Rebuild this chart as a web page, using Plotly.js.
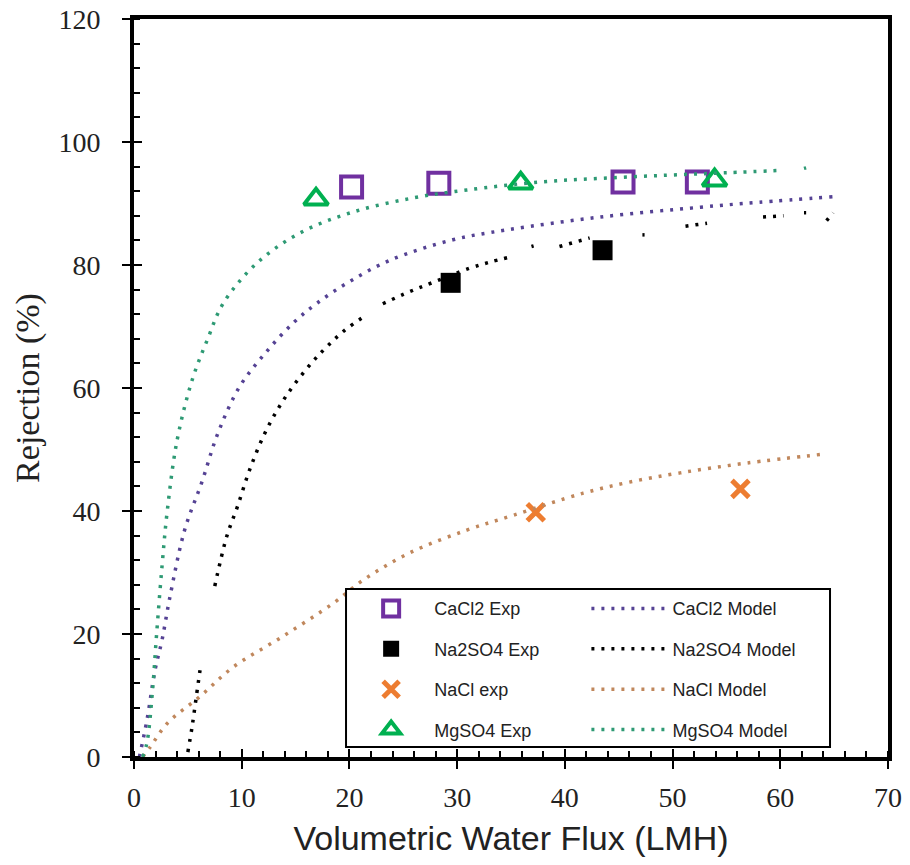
<!DOCTYPE html>
<html>
<head>
<meta charset="utf-8">
<script src="https://cdn.plot.ly/plotly-3.0.1.min.js"></script>
<style>html,body{margin:0;padding:0;background:#fff;}</style>
</head>
<body>
<div id="chart" style="width:910px;height:865px;"></div>
<script>
// ---- Experimental data ----
const cacl2ExpX = [20.2, 28.3, 45.4, 52.3];
const cacl2ExpY = [92.7, 93.3, 93.5, 93.5];
const na2so4ExpX = [29.4, 43.5];
const na2so4ExpY = [77.1, 82.4];
const naclExpX = [37.3, 56.3];
const naclExpY = [39.8, 43.6];
const mgso4ExpX = [16.9, 35.9, 53.9];
const mgso4ExpY = [90.7, 93.3, 93.8];

// ---- Model curves (null = gap in the dotted curve) ----
const cacl2ModelX = [0.5, 1.2, 1.95, 2.6, 3.3, 4.7, 6.3, 7.8, 9.8, 12.2, 14.8, 17.0, 20.0, 23.8, 29.6, 34.6, 43.3, 52.6, 58.0, 64.9];
const cacl2ModelY = [0, 6, 14.1, 19, 25.7, 36.9, 44.7, 52.7, 60.2, 65.7, 70.6, 73.8, 77.3, 80.8, 84.1, 85.7, 87.8, 89.4, 90.2, 91.1];

const na2so4ModelX = [5.0, 5.4, 5.8, 6.2, null, 7.5, 8.6, 9.6, 10.8, 12.3, 14.2, 16.5, 17.9, 19.5, 21.6, null, 23.1, 25.5, 27.8, 31.2, 33.1, 34.9, null, 36.9, 37.1, null, 39.5, 42.3, null, 47.2, 47.4, null, 51.2, 53.2, null, 58.4, 60.3, null, 62.2, 62.4, null, 64.3, 64.9];
const na2so4ModelY = [0.8, 5, 10, 15, null, 27.8, 35.8, 40.7, 47, 53.2, 58.9, 64.1, 66.7, 69.3, 71.9, null, 73.7, 75.6, 77.2, 79.5, 80.5, 81.3, null, 83.0, 83.1, null, 83.0, 84.4, null, 84.9, 84.9, null, 86.3, 86.8, null, 87.8, 88.0, null, 88.5, 88.5, null, 87.2, 88.5];

const naclModelX = [0.8, 1.5, 3.1, 6.1, 9.2, 13.8, 18.5, 21.3, 25.6, 30.9, 35.2, 41.7, 46.0, 50.7, 56.9, 64.3];
const naclModelY = [0, 1.6, 5.5, 9.8, 14.6, 19.6, 25.0, 28.8, 33.2, 36.9, 39.3, 42.9, 44.7, 46.2, 47.8, 49.3];

const mgso4ModelX = [0.8, 1.2, 1.7, 2.1, 2.6, 3.1, 4.0, 5.4, 6.8, 8.3, 11.4, 15.4, 20.3, 25.9, 30.9, 37.7, 43.5, 49.5, 55.0, 60.3, null, 62.2, 62.4];
const mgso4ModelY = [0, 2.3, 10.4, 20, 31, 40.2, 51.5, 61.3, 67.8, 73.8, 80.3, 85.2, 88.6, 90.9, 92.2, 93.5, 94.1, 94.6, 95.0, 95.4, null, 95.7, 95.8];

// ---- Axis ticks ----
const xTickVals = [0, 10, 20, 30, 40, 50, 60, 70];
const yTickVals = [0, 20, 40, 60, 80, 100, 120];

const dotDash = '3px,7px';
const modelW = 3.5;
const SERIF = 'Liberation Serif';
const SANS = 'Liberation Sans';

const traces = [
  {x: cacl2ExpX, y: cacl2ExpY, name: 'CaCl2 Exp', mode: 'markers', legend: 'legend', legendgroup: 'a1',
   marker: {symbol: 'square-open', size: 21, color: '#7030A0', line: {width: 4, color: '#7030A0'}}},
  {x: na2so4ExpX, y: na2so4ExpY, name: 'Na2SO4 Exp', mode: 'markers', legend: 'legend', legendgroup: 'a2',
   marker: {symbol: 'square', size: 20, color: '#000000'}},
  {x: naclExpX, y: naclExpY, name: 'NaCl exp', mode: 'markers', legend: 'legend', legendgroup: 'a3',
   marker: {symbol: 'x-thin-open', size: 17, color: '#ED7D31', line: {width: 5, color: '#ED7D31'}}},
  {x: mgso4ExpX, y: mgso4ExpY, name: 'MgSO4 Exp', mode: 'markers', legend: 'legend', legendgroup: 'a4',
   marker: {symbol: 'triangle-up-open', size: 21, color: '#00B050', line: {width: 4, color: '#00B050'}}},

  {x: cacl2ModelX, y: cacl2ModelY, name: 'CaCl2 Model', mode: 'lines', legend: 'legend2', legendgroup: 'b1',
   line: {color: '#554294', width: modelW, dash: dotDash, shape: 'spline'}, connectgaps: false},
  {x: na2so4ModelX, y: na2so4ModelY, name: 'Na2SO4 Model', mode: 'lines', legend: 'legend2', legendgroup: 'b2',
   line: {color: '#000000', width: modelW, dash: dotDash, shape: 'spline'}, connectgaps: false},
  {x: naclModelX, y: naclModelY, name: 'NaCl Model', mode: 'lines', legend: 'legend2', legendgroup: 'b3',
   line: {color: '#C0875C', width: modelW, dash: dotDash, shape: 'spline'}, connectgaps: false},
  {x: mgso4ModelX, y: mgso4ModelY, name: 'MgSO4 Model', mode: 'lines', legend: 'legend2', legendgroup: 'b4',
   line: {color: '#2E9A74', width: modelW, dash: dotDash, shape: 'spline'}, connectgaps: false},

  // invisible helper so the overlay axes (inner half of the crossing major ticks) are drawn
  {x: [], y: [], xaxis: 'x2', yaxis: 'y2', showlegend: false, hoverinfo: 'skip', mode: 'markers'}
];

const layout = {
  width: 910, height: 865,
  margin: {l: 134, r: 22, t: 19, b: 108},
  paper_bgcolor: '#ffffff', plot_bgcolor: '#ffffff',
  font: {family: SERIF, size: 28, color: '#222'},
  showlegend: true,
  xaxis: {
    range: [0, 70], tickvals: xTickVals, ticks: 'outside', ticklen: 8, tickwidth: 2, tickcolor: '#000',
    showline: true, linewidth: 4, linecolor: '#000', mirror: true,
    showgrid: false, zeroline: false, tickfont: {family: SERIF, size: 28, color: '#222'}, ticklabelstandoff: 4,
    minor: {dtick: 2, ticks: 'inside', ticklen: 6, tickwidth: 2, tickcolor: '#000', showgrid: false},
    title: {text: 'Volumetric Water Flux (LMH)', standoff: 16,
            font: {family: SANS, size: 34, color: '#222'}}
  },
  yaxis: {
    range: [0, 120], tickvals: yTickVals, ticks: 'outside', ticklen: 8, tickwidth: 2, tickcolor: '#000',
    showline: true, linewidth: 4, linecolor: '#000', mirror: true,
    showgrid: false, zeroline: false, tickfont: {family: SERIF, size: 28, color: '#222'}, ticklabelstandoff: 16,
    minor: {dtick: 4, ticks: 'inside', ticklen: 6, tickwidth: 2, tickcolor: '#000', showgrid: false},
    title: {text: 'Rejection (%)', standoff: 10,
            font: {family: SERIF, size: 34, color: '#222'}}
  },
  xaxis2: {
    range: [0, 70], overlaying: 'x', anchor: 'y2', side: 'bottom', tickvals: xTickVals,
    ticks: 'inside', ticklen: 8, tickwidth: 2, tickcolor: '#000', showticklabels: false,
    showline: false, showgrid: false, zeroline: false
  },
  yaxis2: {
    range: [0, 120], overlaying: 'y', anchor: 'x2', side: 'left', tickvals: yTickVals,
    ticks: 'inside', ticklen: 8, tickwidth: 2, tickcolor: '#000', showticklabels: false,
    showline: false, showgrid: false, zeroline: false
  },
  legend: {
    x: 0.284, xanchor: 'left', y: 0.226, yanchor: 'top',
    bgcolor: 'rgba(0,0,0,0)', borderwidth: 0, itemwidth: 76,
    traceorder: 'grouped', tracegroupgap: 14, valign: 'middle',
    font: {family: SANS, size: 18, color: '#222'}
  },
  legend2: {
    x: 0.6, xanchor: 'left', y: 0.226, yanchor: 'top',
    bgcolor: 'rgba(0,0,0,0)', borderwidth: 0, itemwidth: 76,
    traceorder: 'grouped', tracegroupgap: 14, valign: 'middle',
    font: {family: SANS, size: 18, color: '#222'}
  },
  shapes: [{
    type: 'rect', xref: 'paper', yref: 'paper', layer: 'above',
    x0: 0.2812, x1: 0.9231, y0: 0.0136, y1: 0.2276,
    line: {color: '#000', width: 2}, fillcolor: '#ffffff'
  }]
};

Plotly.newPlot('chart', traces, layout, {displayModeBar: false, staticPlot: true});
</script>
</body>
</html>
